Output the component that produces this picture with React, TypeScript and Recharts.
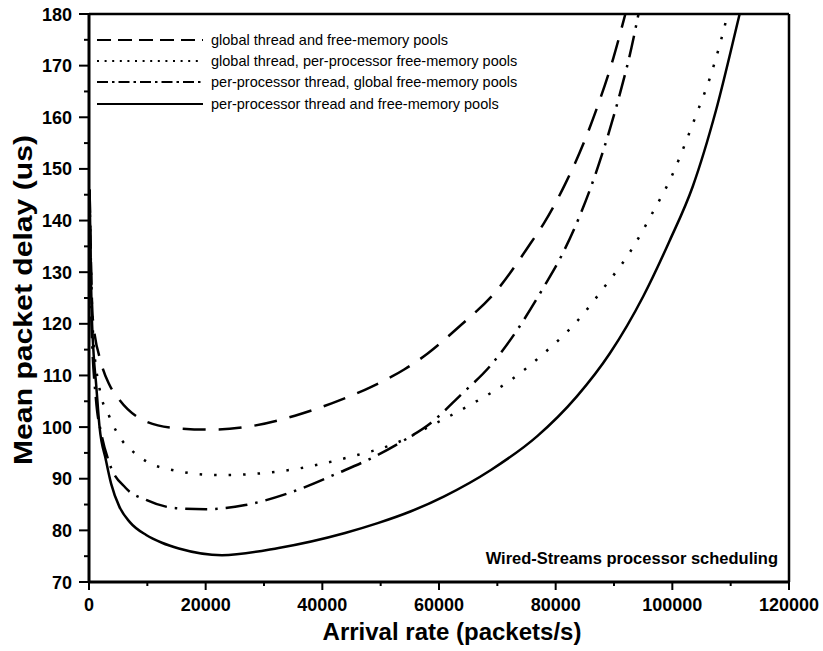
import React from 'react';
import { LineChart, Line, XAxis, YAxis, Legend, ReferenceLine } from 'recharts';

const FONT = '"Liberation Sans", Arial, Helvetica, sans-serif';

const seriesNames = [
  'global thread and free-memory pools',
  'global thread, per-processor free-memory pools',
  'per-processor thread, global free-memory pools',
  'per-processor thread and free-memory pools',
];

const xTicks = [0, 10000, 20000, 30000, 40000, 50000, 60000, 70000, 80000, 90000, 100000, 110000, 120000];
const yTicks = [70, 75, 80, 85, 90, 95, 100, 105, 110, 115, 120, 125, 130, 135, 140, 145, 150, 155, 160, 165, 170, 175, 180];
const annotation = 'Wired-Streams processor scheduling';
const xTitle = 'Arrival rate (packets/s)';
const yTitle = 'Mean packet delay (us)';

const globalBoth = [
  { x: 100, y: 146 }, { x: 650, y: 121 }, { x: 2100, y: 112.4 }, { x: 3500, y: 108.2 },
  { x: 5200, y: 105.3 }, { x: 9200, y: 101.4 }, { x: 14900, y: 99.8 }, { x: 21100, y: 99.5 },
  { x: 27900, y: 100.2 }, { x: 35300, y: 102.2 }, { x: 41600, y: 104.6 }, { x: 48400, y: 107.8 },
  { x: 54100, y: 111.2 }, { x: 58000, y: 114.2 }, { x: 63200, y: 119.2 }, { x: 70000, y: 126.6 },
  { x: 75700, y: 135.6 }, { x: 78000, y: 139.5 }, { x: 81600, y: 147 }, { x: 84800, y: 155 },
  { x: 87300, y: 162.5 }, { x: 89900, y: 171.5 }, { x: 91900, y: 179.8 }, { x: 93000, y: 184.5 },
];

const globalThreadPerProcMem = [
  { x: 100, y: 144 }, { x: 700, y: 118 }, { x: 1800, y: 107.5 }, { x: 3500, y: 102 },
  { x: 5800, y: 97.2 }, { x: 7500, y: 95.3 }, { x: 12000, y: 92.3 }, { x: 22300, y: 90.7 },
  { x: 32500, y: 91.4 }, { x: 45000, y: 94.3 }, { x: 52400, y: 96.8 }, { x: 59200, y: 100.6 },
  { x: 65500, y: 104.4 }, { x: 72300, y: 109.1 }, { x: 78000, y: 114.3 }, { x: 83600, y: 120.4 },
  { x: 88200, y: 126.9 }, { x: 92800, y: 134 }, { x: 96700, y: 141.7 }, { x: 100100, y: 149.1 },
  { x: 102100, y: 154.6 }, { x: 104100, y: 160.5 }, { x: 106400, y: 167.5 }, { x: 108000, y: 173.5 },
  { x: 109300, y: 179.2 }, { x: 110200, y: 184 },
];

const perProcThreadGlobalMem = [
  { x: 100, y: 145 }, { x: 400, y: 121 }, { x: 1200, y: 105.3 }, { x: 2100, y: 98.8 },
  { x: 3500, y: 93 }, { x: 6300, y: 88.2 }, { x: 9800, y: 85.9 }, { x: 14900, y: 84.3 },
  { x: 20000, y: 84.1 }, { x: 26800, y: 84.9 }, { x: 34200, y: 87.2 }, { x: 42700, y: 91.1 },
  { x: 49000, y: 94.3 }, { x: 54100, y: 97.5 }, { x: 58600, y: 100.8 }, { x: 63700, y: 106.2 },
  { x: 68900, y: 112 }, { x: 73400, y: 118.8 }, { x: 78000, y: 127.2 }, { x: 81100, y: 133.4 },
  { x: 84200, y: 141.1 }, { x: 86800, y: 148.9 }, { x: 89000, y: 156.6 }, { x: 91000, y: 164.5 },
  { x: 93000, y: 173.5 }, { x: 94200, y: 180 }, { x: 95000, y: 184.5 },
];

const perProcBoth = [
  { x: 100, y: 146 }, { x: 400, y: 125 }, { x: 800, y: 114 }, { x: 1200, y: 108.6 },
  { x: 1800, y: 100.1 }, { x: 2900, y: 93.6 }, { x: 3800, y: 89 }, { x: 5200, y: 84.6 },
  { x: 7000, y: 81.6 }, { x: 9800, y: 79.1 }, { x: 12500, y: 77.6 }, { x: 15400, y: 76.5 },
  { x: 22800, y: 75.2 }, { x: 32500, y: 76.6 }, { x: 43900, y: 79.5 }, { x: 49500, y: 81.4 },
  { x: 55200, y: 83.7 }, { x: 60900, y: 86.6 }, { x: 68900, y: 91.7 }, { x: 76800, y: 98.2 },
  { x: 83600, y: 105.9 }, { x: 89300, y: 114.3 }, { x: 95000, y: 125.3 }, { x: 99500, y: 136 },
  { x: 103500, y: 146.6 }, { x: 107500, y: 161.4 }, { x: 111500, y: 179.8 }, { x: 112400, y: 184 },
];

const plotDash = ['23 13', '2.5 12', '22 8 2.5 8', undefined];
const legendDash = ['14 7', '2 5.6', '11 4 2.5 4', undefined];

const XTick = (props: any) => {
  const { x, y, payload } = props;
  const major = payload.value % 20000 === 0;
  return (
    <g>
      <line x1={x} y1={y} x2={x} y2={y + (major ? 8 : 4)} stroke="#000" strokeWidth={2} />
      {major && (
        <text x={x} y={y + 29} textAnchor="middle" fontFamily={FONT} fontSize={18} fontWeight="bold" fill="#000">
          {payload.value}
        </text>
      )}
    </g>
  );
};

const YTick = (props: any) => {
  const { x, y, payload } = props;
  const major = payload.value % 10 === 0;
  return (
    <g>
      <line x1={x - (major ? 10 : 5)} y1={y} x2={x} y2={y} stroke="#000" strokeWidth={2} />
      {major && (
        <text x={x - 17} y={y + 6.5} textAnchor="end" fontFamily={FONT} fontSize={18} fontWeight="bold" fill="#000">
          {payload.value}
        </text>
      )}
    </g>
  );
};

const renderLegend = (props: any) => {
  const payload = props.payload || [];
  const rows = seriesNames.map((name) => payload.find((e: any) => e.value === name)).filter(Boolean);
  return (
    <div style={{ fontFamily: FONT, fontSize: 14.5, color: '#000' }}>
      {rows.map((entry: any) => {
        const i = seriesNames.indexOf(entry.value);
        return (
          <div key={entry.value} style={{ display: 'flex', alignItems: 'center', height: 21.3 }}>
            <svg width={110} height={20} style={{ display: 'block' }}>
              <line x1={3} y1={10} x2={109} y2={10} stroke="#000" strokeWidth={2.2} strokeDasharray={legendDash[i]} />
            </svg>
            <span style={{ marginLeft: 7, whiteSpace: 'nowrap' }}>{entry.value}</span>
          </div>
        );
      })}
    </div>
  );
};

const XTitle = (props: any) => {
  const { viewBox } = props;
  return (
    <text x={viewBox.x + viewBox.width / 2 + 13} y={viewBox.y + 58} textAnchor="middle" fontFamily={FONT} fontSize={24} fontWeight="bold" fill="#000">
      {xTitle}
    </text>
  );
};

const YTitle = () => {
  const cx = 32;
  const cy = 300;
  return (
    <text
      x={cx}
      y={cy}
      transform={`rotate(-90, ${cx}, ${cy})`}
      textAnchor="middle"
      fontFamily={FONT}
      fontSize={25}
      fontWeight="bold"
      fill="#000"
      textLength={330}
      lengthAdjust="spacingAndGlyphs"
    >
      {yTitle}
    </text>
  );
};

const allSeries = [globalBoth, globalThreadPerProcMem, perProcThreadGlobalMem, perProcBoth];

export default function App() {
  return (
    <div style={{ position: 'absolute', left: 0, top: 0, width: 823, height: 651 }}>
      <LineChart width={823} height={651} margin={{ top: 14, right: 34, bottom: 0, left: 0 }}>
        <XAxis
          type="number"
          dataKey="x"
          domain={[0, 120000]}
          ticks={xTicks}
          allowDataOverflow
          height={69}
          tickSize={0}
          tickMargin={0}
          tickLine={false}
          tick={<XTick />}
          axisLine={{ stroke: '#000', strokeWidth: 3 }}
          interval={0}
          label={<XTitle />}
        />
        <YAxis
          type="number"
          dataKey="y"
          domain={[70, 180]}
          ticks={yTicks}
          allowDataOverflow
          width={89}
          tickSize={0}
          tickMargin={0}
          tickLine={false}
          tick={<YTick />}
          axisLine={{ stroke: '#000', strokeWidth: 3 }}
          interval={0}
          label={<YTitle />}
        />
        <ReferenceLine y={180} stroke="#000" strokeWidth={2.5} />
        <ReferenceLine x={120000} stroke="#000" strokeWidth={2.5} />
        {allSeries.map((data, i) => (
          <Line
            key={seriesNames[i]}
            name={seriesNames[i]}
            data={data}
            dataKey="y"
            type="monotone"
            stroke="#000"
            strokeWidth={2.5}
            strokeDasharray={plotDash[i]}
            dot={false}
            activeDot={false}
            isAnimationActive={false}
          />
        ))}
        <Legend
          layout="vertical"
          align="center"
          verticalAlign="middle"
          itemSorter={null as any}
          content={renderLegend}
          wrapperStyle={{ position: 'absolute', left: 94, top: 29, width: 480 }}
        />
      </LineChart>
      <div
        style={{
          position: 'absolute',
          right: 823 - 778,
          top: 548,
          fontFamily: FONT,
          fontSize: 16.5,
          fontWeight: 'bold',
          color: '#000',
          whiteSpace: 'nowrap',
          lineHeight: '20px',
        }}
      >
        {annotation}
      </div>
    </div>
  );
}
